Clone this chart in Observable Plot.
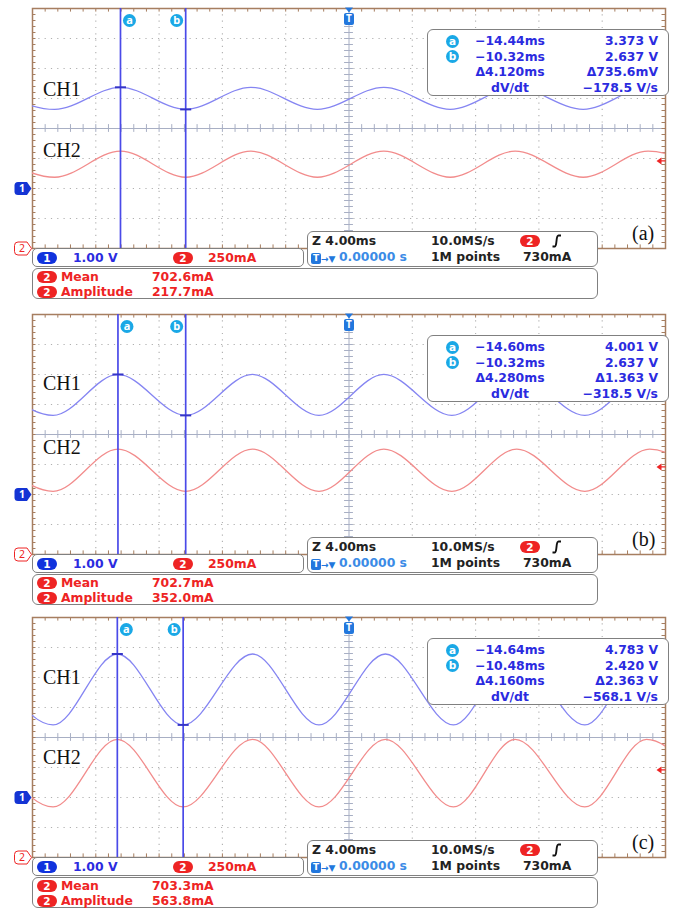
<!DOCTYPE html>
<html><head><meta charset="utf-8">
<script src="https://cdn.jsdelivr.net/npm/d3@7"></script>
<script src="https://cdn.jsdelivr.net/npm/@observablehq/plot@0.6"></script>
<style>
html,body{margin:0;padding:0;background:#fff;}
#root{position:relative;width:676px;height:910px;overflow:hidden;font-family:"DejaVu Sans",sans-serif;}
.panel{position:absolute;left:0;width:676px;height:304px;}
.panel svg{position:absolute;left:0;top:0;background:transparent;}
.box{position:absolute;border:1.5px solid #808080;border-radius:6px;background:#fff;box-sizing:border-box;}
.t{position:absolute;font-weight:bold;font-size:12.4px;white-space:nowrap;line-height:16px;height:16px;}
.serif{position:absolute;font-family:"Liberation Serif","DejaVu Serif",serif;font-size:20px;line-height:20px;color:#111;white-space:nowrap;}
.pill{position:absolute;width:20px;height:12px;border-radius:6px;color:#fff;font-weight:bold;font-size:10.5px;line-height:12px;text-align:center;}
.circ{position:absolute;width:13px;height:13px;border-radius:50%;background:#1aa8e6;color:#fff;font-weight:bold;font-size:10.5px;line-height:13px;text-align:center;}
</style>
</head><body><div id="root"></div>
<script>
// ---------- data ----------
const panelNames = ["(a)", "(b)", "(c)"];
const timePerDiv_ms = 4;            // "Z 4.00ms"
const ch1VoltsPerDiv = 1.00;        // "1.00 V"
const ch2mAPerDiv = 250;            // "250mA"
const ch1PositionDiv = -2;          // channel 1 ground marker
const ch2PositionDiv = -4;          // channel 2 ground marker
const triggerLevel_mA = 730;

const cursorA_ms = [-14.44, -14.60, -14.64];
const cursorB_ms = [-10.32, -10.32, -10.48];
const cursorA_V = [3.373, 4.001, 4.783];
const cursorB_V = [2.637, 2.637, 2.420];
const cursorATimeText = ["−14.44ms", "−14.60ms", "−14.64ms"];
const cursorBTimeText = ["−10.32ms", "−10.32ms", "−10.48ms"];
const cursorAValueText = ["3.373 V", "4.001 V", "4.783 V"];
const cursorBValueText = ["2.637 V", "2.637 V", "2.420 V"];
const deltaTimeText = ["Δ4.120ms", "Δ4.280ms", "Δ4.160ms"];
const deltaValueText = ["Δ735.6mV", "Δ1.363 V", "Δ2.363 V"];
const slopeText = ["−178.5 V/s", "−318.5 V/s", "−568.1 V/s"];

const ch2Mean_mA = [702.6, 702.7, 703.3];
const ch2Amplitude_mA = [217.7, 352.0, 563.8];
const ch2MeanText = ["702.6mA", "702.7mA", "703.3mA"];
const ch2AmplitudeText = ["217.7mA", "352.0mA", "563.8mA"];

// times (ms) of the waveform crests and troughs
const crestTimes_ms = [
  [-22.7, -14.44, -6.2, 2.2, 10.5, 18.9],
  [-22.9, -14.60, -6.1, 2.2, 10.6, 19.0],
  [-22.9, -14.64, -6.1, 2.3, 10.5, 18.8]
];
const troughTimes_ms = [
  [-18.6, -10.32, -2.0, 6.4, 14.8, 23.2],
  [-18.7, -10.32, -1.9, 6.5, 14.9, 23.3],
  [-18.7, -10.48, -1.9, 6.6, 14.9, 23.2]
];

// ---------- layout ----------
const frameTops = [8, 314, 617];
const frameColor = "#a67e60";
const axisColor = "#a8afc4";
const blue = "#2b2be0", red = "#ee2424";

const root = document.getElementById("root");

function extrema(i, hi, lo, perDiv, pos) {
  const pts = crestTimes_ms[i].map(t => ({t, v: hi}))
    .concat(troughTimes_ms[i].map(t => ({t, v: lo})));
  pts.sort((a, b) => a.t - b.t);
  return pts.map(d => ({t: d.t, y: d.v / perDiv + pos}));
}

const tagSymbol = {
  draw(ctx) {
    ctx.moveTo(-5, -6.5); ctx.lineTo(4, -6.5); ctx.lineTo(8.5, 0); ctx.lineTo(4, 6.5);
    ctx.lineTo(-5, 6.5); ctx.quadraticCurveTo(-8.5, 6.5, -8.5, 3); ctx.lineTo(-8.5, -3);
    ctx.quadraticCurveTo(-8.5, -6.5, -5, -6.5); ctx.closePath();
  }
};
const downTriangle = {
  draw(ctx) { ctx.moveTo(-4, -2.5); ctx.lineTo(4, -2.5); ctx.lineTo(0, 2.5); ctx.closePath(); }
};
const leftArrow = {
  draw(ctx) { ctx.moveTo(-4, 0); ctx.lineTo(1, -3.5); ctx.lineTo(1, 3.5); ctx.closePath(); ctx.rect(1, -0.7, 4, 1.4); }
};
const roundedSquare = {
  draw(ctx) {
    const w = 5, h = 6, r = 2;
    ctx.moveTo(-w + r, -h); ctx.lineTo(w - r, -h); ctx.quadraticCurveTo(w, -h, w, -h + r);
    ctx.lineTo(w, h - r); ctx.quadraticCurveTo(w, h, w - r, h); ctx.lineTo(-w + r, h);
    ctx.quadraticCurveTo(-w, h, -w, h - r); ctx.lineTo(-w, -h + r); ctx.quadraticCurveTo(-w, -h, -w + r, -h);
    ctx.closePath();
  }
};

function add(parent, cls, style, html) {
  const d = document.createElement("div");
  d.className = cls;
  Object.assign(d.style, style);
  if (html !== undefined) d.innerHTML = html;
  parent.appendChild(d);
  return d;
}
function txt(parent, s, left, cy, color, align) {
  const st = {top: (cy - 8) + "px", color};
  if (align === "center") { st.left = (left - 60) + "px"; st.width = "120px"; st.textAlign = "center"; }
  else if (align === "right") { st.left = (left - 160) + "px"; st.width = "160px"; st.textAlign = "right"; }
  else st.left = left + "px";
  return add(parent, "t", st, s);
}
function pill(parent, s, left, cy, bg) {
  return add(parent, "pill", {left: left + "px", top: (cy - 6) + "px", background: bg}, s);
}

const xDiv = d3.range(-20, 20.001, timePerDiv_ms);
const yDiv = d3.range(-4, 4.001, 1);
const xMinor = d3.range(-20, 20.001, timePerDiv_ms / 5);
const yMinor = d3.range(-4, 4.001, 0.2);

panelNames.forEach((name, i) => {
  const panel = add(root, "panel", {top: (frameTops[i] - 8) + "px"});
  const ch1 = extrema(i, cursorA_V[i], cursorB_V[i], ch1VoltsPerDiv, ch1PositionDiv);
  const ch2 = extrema(i, ch2Mean_mA[i] + ch2Amplitude_mA[i] / 2, ch2Mean_mA[i] - ch2Amplitude_mA[i] / 2, ch2mAPerDiv, ch2PositionDiv);
  const cursorPts = [
    {t: cursorA_ms[i], y: cursorA_V[i] / ch1VoltsPerDiv + ch1PositionDiv},
    {t: cursorB_ms[i], y: cursorB_V[i] / ch1VoltsPerDiv + ch1PositionDiv}
  ];
  const svg = Plot.plot({
    width: 676, height: 260,
    marginLeft: 32, marginRight: 11, marginTop: 8, marginBottom: 12,
    x: {domain: [-20, 20], axis: null},
    y: {domain: [-4, 4], axis: null},
    style: {background: "transparent", overflow: "visible"},
    marks: [
      Plot.ruleX(xDiv.filter(d => d !== 0 && Math.abs(d) !== 20), {stroke: "#b0b0b0", strokeWidth: 1.1, strokeDasharray: "1.2,5.1"}),
      Plot.ruleY(yDiv.filter(d => d !== 0 && Math.abs(d) !== 4), {stroke: "#b0b0b0", strokeWidth: 1.1, strokeDasharray: "1.2,5.1"}),
      Plot.ruleX([0], {stroke: axisColor, strokeWidth: 1}),
      Plot.ruleY([0], {stroke: axisColor, strokeWidth: 1}),
      Plot.ruleX(xMinor, {y1: -0.13, y2: 0.13, stroke: axisColor}),
      Plot.ruleY(yMinor, {x1: -0.28, x2: 0.28, stroke: axisColor}),
      Plot.ruleX(xMinor, {y1: 4, y2: 3.88, stroke: frameColor}),
      Plot.ruleX(xMinor, {y1: -4, y2: -3.88, stroke: frameColor}),
      Plot.ruleY(yMinor, {x1: -20, x2: -19.78, stroke: frameColor}),
      Plot.ruleY(yMinor, {x1: 20, x2: 19.78, stroke: frameColor}),
      Plot.frame({stroke: frameColor, strokeWidth: 1.5}),
      Plot.line(ch2, {x: "t", y: "y", curve: "monotone-x", stroke: "#f28c8c", strokeWidth: 1.3, clip: true}),
      Plot.line(ch1, {x: "t", y: "y", curve: "monotone-x", stroke: "#8585f2", strokeWidth: 1.3, clip: true}),
      Plot.ruleX([cursorA_ms[i], cursorB_ms[i]], {stroke: "#4a4ae8", strokeWidth: 1.7}),
      Plot.link(cursorPts, {x1: d => d.t - 0.35, x2: d => d.t + 0.35, y1: "y", y2: "y", stroke: "#3434c8", strokeWidth: 2}),
      Plot.dot([cursorA_ms[i]], {x: d => d, y: 4, dx: 9, dy: 12, r: 6.5, fill: "#1aa8e6"}),
      Plot.text([cursorA_ms[i]], {x: d => d, y: 4, dx: 9, dy: 12, text: () => "a", fill: "white", fontWeight: "bold", fontSize: 11}),
      Plot.dot([cursorB_ms[i]], {x: d => d, y: 4, dx: -9, dy: 12, r: 6.5, fill: "#1aa8e6"}),
      Plot.text([cursorB_ms[i]], {x: d => d, y: 4, dx: -9, dy: 12, text: () => "b", fill: "white", fontWeight: "bold", fontSize: 11}),
      Plot.dot([0], {x: d => d, y: 4, dy: 1.5, symbol: downTriangle, fill: "#2277dd"}),
      Plot.dot([0], {x: d => d, y: 4, dy: 10.5, symbol: roundedSquare, fill: "#2277dd"}),
      Plot.text([0], {x: d => d, y: 4, dy: 10.5, text: () => "T", fill: "white", fontWeight: "bold", fontSize: 10}),
      Plot.dot([triggerLevel_mA], {x: 20, y: d => d / ch2mAPerDiv + ch2PositionDiv, dx: -5, symbol: leftArrow, fill: red}),
      Plot.dot([ch1PositionDiv], {x: -20, y: d => d, dx: -9.5, symbol: tagSymbol, fill: "#1434d4"}),
      Plot.text([ch1PositionDiv], {x: -20, y: d => d, dx: -10.5, text: () => "1", fill: "white", fontWeight: "bold", fontSize: 10.5}),
      Plot.dot([ch2PositionDiv], {x: -20, y: d => d, dx: -9.5, symbol: tagSymbol, fill: "white", stroke: red, strokeWidth: 1}),
      Plot.text([ch2PositionDiv], {x: -20, y: d => d, dx: -10.5, text: () => "2", fill: red, fontSize: 10.5})
    ]
  });
  panel.appendChild(svg);

  // channel labels and panel tag
  const ch1LabelY = [89, 77, 68][i], ch2LabelY = [150, 141, 148][i];
  add(panel, "serif", {left: "43px", top: (ch1LabelY - 10) + "px"}, "CH1");
  add(panel, "serif", {left: "43px", top: (ch2LabelY - 10) + "px"}, "CH2");
  add(panel, "serif", {left: "632px", top: "223px"}, name);

  // cursor readout box
  const rb = add(panel, "box", {left: "427px", top: "29px", width: "242px", height: "67px"});
  const rows = [11, 26.5, 42, 57.5];
  add(rb, "circ", {left: "18px", top: (rows[0] - 6.5) + "px"}, "a");
  add(rb, "circ", {left: "18px", top: (rows[1] - 6.5) + "px"}, "b");
  txt(rb, cursorATimeText[i], 82, rows[0], blue, "center");
  txt(rb, cursorBTimeText[i], 82, rows[1], blue, "center");
  txt(rb, deltaTimeText[i], 82, rows[2], blue, "center");
  txt(rb, "dV/dt", 82, rows[3], blue, "center");
  txt(rb, cursorAValueText[i], 230, rows[0], blue, "right");
  txt(rb, cursorBValueText[i], 230, rows[1], blue, "right");
  txt(rb, deltaValueText[i], 230, rows[2], blue, "right");
  txt(rb, slopeText[i], 230, rows[3], blue, "right");

  // vertical settings box
  add(panel, "box", {left: "32px", top: "248px", width: "272px", height: "19px", borderRadius: "5px"});
  pill(panel, "1", 37, 257.5, "#1133dd");
  txt(panel, ch1VoltsPerDiv.toFixed(2) + " V", 73, 257.5, blue);
  pill(panel, "2", 173, 257.5, red);
  txt(panel, ch2mAPerDiv + "mA", 208, 257.5, red);

  // horizontal / trigger box
  add(panel, "box", {left: "307px", top: "231px", width: "291px", height: "36px"});
  txt(panel, "Z " + timePerDiv_ms.toFixed(2) + "ms", 312, 241, "#222");
  txt(panel, "10.0MS/s", 431, 241, "#222");
  pill(panel, "2", 520, 241, red);
  add(panel, "t", {left: "551px", top: "234px", width: "12px"},
    '<svg width="11" height="14"><path d="M1.5 12.5 H4 Q5 12.5 5.5 7 Q6 1.5 7.5 1.5 H10" stroke="#111" fill="none" stroke-width="1.9"/></svg>');
  add(panel, "t", {left: "311px", top: "250px", width: "28px"},
    '<span style="display:inline-block;width:10px;height:11px;background:#2277dd;border-radius:2px;color:#fff;font-size:9px;line-height:11px;text-align:center;vertical-align:middle">T</span><span style="color:#2277dd;font-size:9px;vertical-align:middle">→▼</span>');
  txt(panel, "0.00000 s", 407, 257, "#3b8be6", "right");
  txt(panel, "1M points", 431, 257, "#222");
  txt(panel, triggerLevel_mA + "mA", 523, 257, "#222");

  // measurement box
  add(panel, "box", {left: "32px", top: "268px", width: "566px", height: "31px"});
  pill(panel, "2", 37, 276.5, red);
  txt(panel, "Mean", 61, 276.5, red);
  txt(panel, ch2MeanText[i], 152, 276.5, red);
  pill(panel, "2", 37, 291.5, red);
  txt(panel, "Amplitude", 61, 291.5, red);
  txt(panel, ch2AmplitudeText[i], 152, 291.5, red);
});
</script>
</body></html>
